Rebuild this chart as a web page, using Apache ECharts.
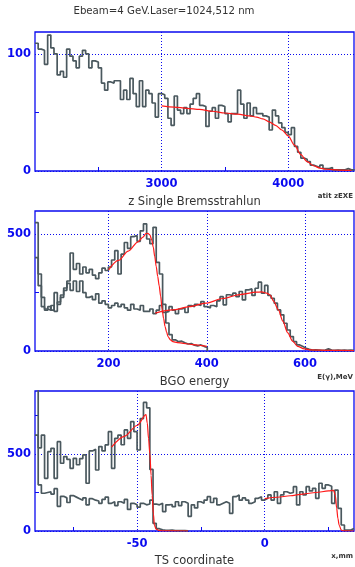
<!DOCTYPE html>
<html><head><meta charset="utf-8">
<script src="https://cdn.jsdelivr.net/npm/echarts@6/dist/echarts.min.js"></script>
<style>html,body{margin:0;padding:0;background:#fff}#c{width:355px;height:567px}</style>
</head><body><div id="c"></div>
<script>
// ---------- DATA ----------
// Panel 1: z Single Bremsstrahlung (bins of 25 starting at 2000)
const zStart = 2000, zBin = 25;
const zHist = [109,104,103,91,116,105,100,82,85,80,104,98,94,88,98,103,100,88,94,93,
  88,75,69,76,75,77,77,61,69,61,79,66,55,77,55,69,66,58,46,66,
  65,62,45,39,64,52,49,54,49,57,62,66,56,55,38,51,54,45,56,55,
  49,42,49,49,69,57,45,58,47,54,49,49,47,46,35,52,47,41,37,33,
  31,37,21,16,11,10,8,5,4,3,5,2,2,3,1,1,1,1,2,1,1];
const zFit = [[3000,55.5],[3100,54.5],[3200,53.5],[3300,52.5],[3400,51],[3500,49.5],[3600,48.5],
  [3700,47],[3750,46],[3800,44.5],[3850,42],[3900,39],[3950,35],[4000,30],[4050,22],[4100,14],
  [4150,8],[4200,4.5],[4250,2.5],[4300,1.5],[4400,0.8],[4500,0.5]];
const zTicks = [3000,4000], zMinor = [2500,3500], zYTicks = [0,100], zYMinor = [50];

// Panel 2: BGO energy (bins of 6.5 MeV starting at 50)
const eStart = 50, eBin = 6.5;
const eHist1 = [550,330,230,180,175,195,170,210,240,260,
  300,420,350,375,330,360,335,350,325,310,
  335,355,345,360,390,430,330,415,465,440,
  490,495,470,515,545,480,460,530,380,330,
  200,120,70,48,40,42,35,30,32,25,
  22,26,20,15];
const eHist2 = [400,280,190,175,190,175,250,200,230,270,
  290,260,300,255,300,250,230,235,220,245,
  205,215,200,185,195,205,190,200,185,175,
  200,180,175,195,170,170,180,160,175,195,
  165,170,190,175,160,180,185,165,195,190,
  200,195,212,190,185,195,190,215,233,198,
  241,238,248,233,255,219,262,266,238,269,
  295,248,281,238,226,205,176,155,119,90,
  62,40,26,19,12,7,4,5,4,3,
  4,9,4,3,4,3,4,3,4,3];
const eFit1 = [[200,348],[220,388],[240,428],[260,468],[270,488],[276,503],[280,504],[284,498],
  [288,475],[291,445],[294,405],[297,362],[300,320],[303,280],[306,235],[309,180],[312,140],
  [315,105],[318,82],[321,62],[326,48],[331,40],[340,36],[352,33],[365,29],[379,26],[390,23],[400,20]];
const eFit2 = [[295,162],[330,176],[365,190],[398,205],[433,225],[467,242],[501,252],[512,253],
  [522,248],[529,240],[536,214],[546,176],[555,128],[565,78],[575,42],[585,20],[599,9],[610,5],
  [650,3],[700,2]];
const eTicks = [200,400,600], eYTicks = [0,500], eYMinor = [250];

// Panel 3: TS coordinate (bins of 1.25 mm starting at -90)
const xStart = -90, xBin = 1.25;
const xHistA = [623,540,623,342,515,537,342,580,440,483,
  465,407,472,430,470,494,310,520,530,396,
  548,520,559,645,407,602,623,560,656,602,
  710,645,526,730,835,800,400,50,15,8,
  5,4,6,3,2,3,2,1];
const xHistB = [950,300,245,250,255,240,275,160,225,215,
  185,230,220,210,200,215,170,210,200,195,
  180,205,220,180,190,165,190,180,205,140,
  180,170,155,180,170,175,200,175,170,180,
  126,170,172,158,190,165,190,180,95,170,
  150,190,180,201,223,185,212,170,180,190,
  180,115,223,234,200,215,201,180,190,212,
  223,201,212,234,201,255,180,234,255,245,
  250,288,169,255,234,288,260,277,212,310,
  277,299,290,180,266,147,39,6,6,17];
const xFitA = [[-60,545],[-55,615],[-50,685],[-46.5,755],[-46,700],[-45.5,600],[-45,502],
  [-44.5,360],[-44.1,232],[-43.6,110],[-43.2,37],[-42.5,12],[-41.5,4],[-40,1],[-30,0]];
const xFitB = [[0,210],[5,219],[10,229],[15,240],[20,250],[25,260],[27,264],[27.7,230],
  [28.2,150],[28.7,80],[29.2,37],[30,6],[31,1],[35,0]];
const xTicks = [-50,0], xMinor = [-75,-25,25], xYTicks = [0,500], xYMinor = [250,750];

// ---------- BUILD ----------
function histPoints(start, width, vals, closeZero) {
  const p = vals.map((v, i) => [start + i * width, v]);
  p.push([start + vals.length * width, vals[vals.length - 1]]);
  if (closeZero) p.push([start + vals.length * width, 0]);
  return p;
}
const BLUE = '#0a0af0', FONT = 'DejaVu Sans';
const HCOL = '#4a585e', RCOL = '#ff1a1a';
const plain = v => String(v);

function mainX(gi, min, max, vals) {
  return {gridIndex: gi, type: 'value', min, max, position: 'bottom',
    axisLine: {show: false, onZero: false}, axisTick: {show: false, customValues: vals},
    axisLabel: {customValues: vals, formatter: plain, color: BLUE, fontFamily: FONT, fontSize: 11.5, fontWeight: 'bold', margin: 7},
    splitLine: {show: true, lineStyle: {color: BLUE, type: [1, 2], width: 1}}};
}
function mainY(gi, min, max, vals) {
  return {gridIndex: gi, type: 'value', min, max, position: 'left',
    axisLine: {show: false, onZero: false}, axisTick: {show: false, customValues: vals},
    axisLabel: {customValues: vals, formatter: plain, color: BLUE, fontFamily: FONT, fontSize: 11.5, fontWeight: 'bold', margin: 4},
    splitLine: {show: true, lineStyle: {color: BLUE, type: [1, 2], width: 1}}};
}
function tickAx(gi, min, max, vals, pos) {
  return {gridIndex: gi, type: 'value', min, max, position: pos,
    axisLine: {show: false, onZero: false}, axisLabel: {show: false}, splitLine: {show: false},
    axisTick: {show: true, inside: true, length: 4, customValues: vals, lineStyle: {color: BLUE, width: 1}}};
}
function hist(xi, data) {
  return {type: 'line', xAxisIndex: xi, yAxisIndex: xi, data, step: 'end', symbol: 'none',
    lineStyle: {color: HCOL, width: 1.7}, silent: true, z: 3};
}
function fit(xi, data) {
  return {type: 'line', xAxisIndex: xi, yAxisIndex: xi, data, smooth: 0.3, smoothMonotone: 'x',
    symbol: 'none', lineStyle: {color: RCOL, width: 1.2}, silent: true, z: 4};
}
const gridStyle = {show: true, borderColor: BLUE, borderWidth: 1.3, backgroundColor: 'transparent'};
function txt(x, y, text, size, weight, align) {
  return {type: 'text', x, y, style: {text, fontSize: size, fontFamily: FONT, fontWeight: weight,
    fill: '#333', align: align, verticalAlign: 'middle'}};
}

const chart = echarts.init(document.getElementById('c'), null, {renderer: 'canvas'});
chart.setOption({
  animation: false,
  backgroundColor: '#fff',
  grid: [
    Object.assign({left: 35, top: 32, width: 319, height: 139}, gridStyle),
    Object.assign({left: 35, top: 211, width: 319, height: 140}, gridStyle),
    Object.assign({left: 35, top: 391, width: 319, height: 140}, gridStyle)
  ],
  xAxis: [
    mainX(0, 2000, 4520, zTicks), tickAx(0, 2000, 4520, zMinor, 'bottom'),
    mainX(1, 50, 700, eTicks), tickAx(1, 50, 700, [], 'bottom'),
    mainX(2, -90, 35, xTicks), tickAx(2, -90, 35, xMinor, 'bottom')
  ],
  yAxis: [
    mainY(0, 0, 118.6, zYTicks), tickAx(0, 0, 118.6, zYMinor, 'left'),
    mainY(1, 0, 600, eYTicks), tickAx(1, 0, 600, eYMinor, 'left'),
    mainY(2, 0, 909, xYTicks), tickAx(2, 0, 909, xYMinor, 'left')
  ],
  series: [
    hist(0, histPoints(zStart, zBin, zHist, false)),
    fit(0, zFit),
    hist(2, histPoints(eStart, eBin, eHist2, false)),
    hist(2, histPoints(eStart, eBin, eHist1, true)),
    fit(2, eFit1),
    fit(2, eFit2),
    hist(4, histPoints(xStart, xBin, xHistB, false)),
    hist(4, histPoints(xStart, xBin, xHistA, true)),
    fit(4, xFitA),
    fit(4, xFitB)
  ],
  graphic: [
    txt(164, 11, 'Ebeam=4 GeV.Laser=1024,512 nm', 10.2, 'normal', 'center'),
    txt(353, 196, 'atit zEXE', 7, 'bold', 'right'),
    txt(194.5, 202, 'z Single Bremsstrahlun', 11.5, 'normal', 'center'),
    txt(353, 377, 'E(γ),MeV', 7, 'bold', 'right'),
    txt(194.5, 382.5, 'BGO energy', 11.5, 'normal', 'center'),
    txt(353, 556, 'x,mm', 7, 'bold', 'right'),
    txt(194.5, 561.5, 'TS coordinate', 11.5, 'normal', 'center')
  ]
});
</script></body></html>
